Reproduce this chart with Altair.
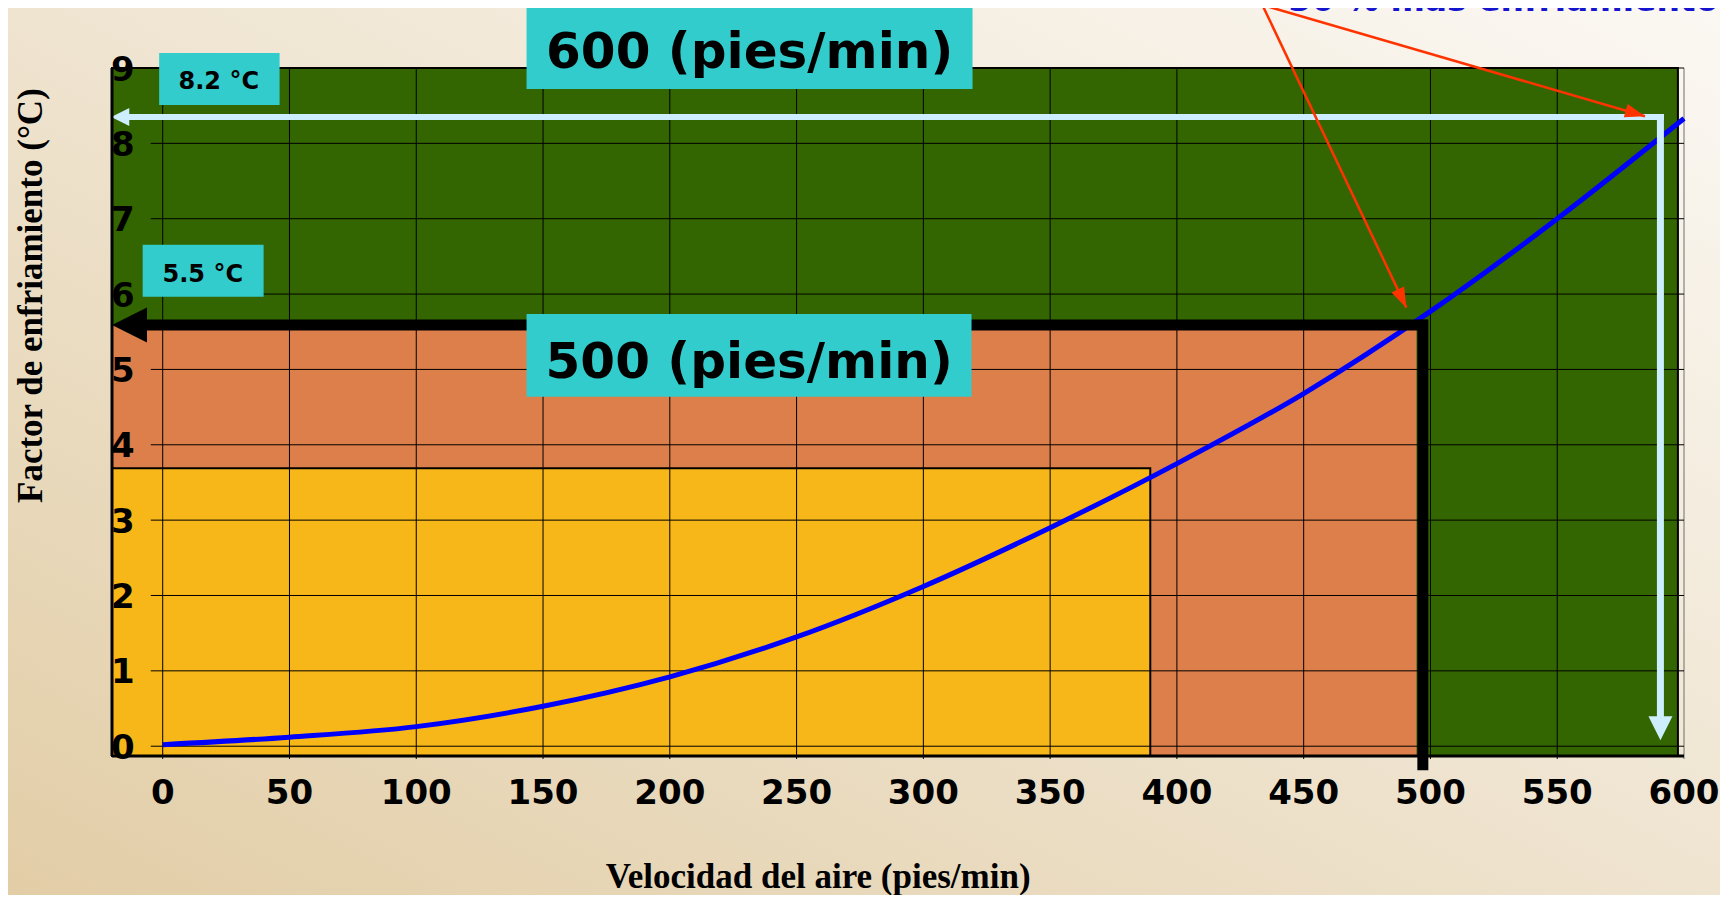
import math
import altair as alt
import pandas as pd

# ---------------- data ----------------
velocidad = [0, 50, 100, 150, 200, 250, 300, 350, 400, 450, 500, 550, 600]
enfriamiento = [0.02, 0.12, 0.26, 0.53, 0.92, 1.45, 2.12, 2.90, 3.75, 4.68, 5.77, 7.00, 8.33]

x_ticks = [0, 50, 100, 150, 200, 250, 300, 350, 400, 450, 500, 550, 600]
y_ticks = [0, 1, 2, 3, 4, 5, 6, 7, 8, 9]

x_title = "Velocidad del aire (pies/min)"
y_title = "Factor de enfriamiento (°C)"
x_title_pos = [258.5, -1.88]
y_title_pos = [-47.6, 5.98]

zone_name = ["verde", "naranja", "amarillo"]
zone_x_end = [597.6, 494.5, 389.5]
zone_y_end = [9.0, 5.6, 3.69]
zone_color = ["#336600", "#DD7F4A", "#F7B718"]
zone_stroke = [2, 0, 2]

# guide segments (x0, y0) -> (x1, y1)
seg_x0 = [-10, 497, -16, 590.7, 433.7, 433.7]
seg_y0 = [5.59, 5.66, 8.35, 8.39, 9.837, 9.837]
seg_x1 = [499, 497, 592.1, 590.7, 584.6, 490.5]
seg_y1 = [5.59, -0.32, 8.35, 0.35, 8.36, 5.82]
seg_color = ["#000000", "#000000", "#CCEEFF", "#CCEEFF", "#FF3300", "#FF3300"]
seg_width = [11, 11, 6, 7, 2.5, 2.5]

# arrow heads (tip positions)
head_x = [-20, -20.3, 590.7, 584.6, 490.5]
head_y = [5.59, 8.35, 0.08, 8.36, 5.82]
head_kind = ["left", "left", "down", "tilt", "tilt"]
head_seg = [0, 2, 3, 4, 5]
head_size = [1225, 324, 576, 400, 400]
head_color = ["#000000", "#CCEEFF", "#CCEEFF", "#FF3300", "#FF3300"]

# cyan label boxes
box_text = ["600 (pies/min)", "500 (pies/min)", "8.2 °C", "5.5 °C"]
box_x0 = [143.5, 143.5, -1.4, -7.9]
box_x1 = [319.4, 319.0, 46.1, 39.8]
box_y0 = [8.72, 4.636, 8.51, 5.963]
box_y1 = [9.837, 5.736, 9.2, 6.653]
text_x = [231.5, 231.3, 22.1, 15.8]
text_y = [9.0, 4.89, 8.72, 6.16]
text_big = [True, True, False, False]

note_text = ["30 % más enfriamiento"]
note_x = [444]
note_y = [9.75]

# ---------------- layout ----------------
X_DOMAIN = [-20, 600]
Y_DOMAIN = [-0.13, 9]
W, H = 1572, 688
PAD = {"left": 104, "top": 60, "right": 36, "bottom": 139}
px_x = W / (X_DOMAIN[1] - X_DOMAIN[0])
px_y = H / (Y_DOMAIN[1] - Y_DOMAIN[0])

SHAPES = {
    "left": "M0,0L2,-1L2,1Z",
    "down": "M0,0L-1,-2L1,-2Z",
    "tilt": "M0,0L-0.7,2L0.7,2Z",
}

def head_angle(i):
    if head_kind[i] != "tilt":
        return 0
    s = head_seg[i]
    dx = (seg_x1[s] - seg_x0[s]) * px_x
    dy = -(seg_y1[s] - seg_y0[s]) * px_y
    return math.degrees(math.atan2(dx, -dy)) % 360

xs = alt.Scale(domain=X_DOMAIN, nice=False, zero=False)
ys = alt.Scale(domain=Y_DOMAIN, nice=False, zero=False)

SANS = "DejaVu Sans"
SERIF = "Liberation Serif"

def X(f):
    return alt.X(f, type="quantitative", scale=xs, axis=None)

def Y(f):
    return alt.Y(f, type="quantitative", scale=ys, axis=None)

# background gradient panel
bg = alt.Chart(pd.DataFrame({"k": [0]})).mark_rect(
    color=alt.LinearGradient(
        gradient="linear", x1=1, y1=0, x2=0, y2=1,
        stops=[alt.GradientStop(color="#FBF8F3", offset=0),
               alt.GradientStop(color="#EFE4D0", offset=0.5),
               alt.GradientStop(color="#E2CDA6", offset=1)],
    )
).encode(
    x=alt.value(-PAD["left"]), x2=alt.value(W + PAD["right"]),
    y=alt.value(-PAD["top"]), y2=alt.value(H + PAD["bottom"]),
)

zones_df = pd.DataFrame({
    "zona": zone_name, "x0": [X_DOMAIN[0]] * 3, "x1": zone_x_end,
    "y0": [Y_DOMAIN[0]] * 3, "y1": zone_y_end, "c": zone_color, "sw": zone_stroke,
})
zones = alt.Chart(zones_df).mark_rect(stroke="black").encode(
    x=X("x0"), x2="x1", y=Y("y0"), y2="y1",
    color=alt.Color("c:N", scale=None),
    strokeWidth=alt.StrokeWidth("sw:Q", scale=None),
)

vgrid_df = pd.DataFrame({"x": x_ticks, "y0": [-0.17] * len(x_ticks), "y1": [9] * len(x_ticks)})
vgrid = alt.Chart(vgrid_df).mark_rule(strokeWidth=1).encode(
    x=X("x"), y=Y("y0"), y2="y1",
    color=alt.condition(alt.datum.x == 600, alt.value("#6E6E6E"), alt.value("#000000")),
)
hgrid_df = pd.DataFrame({"y": y_ticks, "x0": [-4.7] * len(y_ticks), "x1": [600] * len(y_ticks)})
hgrid = alt.Chart(hgrid_df).mark_rule(strokeWidth=1, color="black").encode(
    y=Y("y"), x=X("x0"), x2="x1",
)

curve = alt.Chart(pd.DataFrame({"v": velocidad, "f": enfriamiento})).mark_line(
    color="#0000FF", strokeWidth=5, interpolate="monotone"
).encode(x=X("v"), y=Y("f"))

seg_df = pd.DataFrame({"x": seg_x0, "y": seg_y0, "x2": seg_x1, "y2": seg_y1,
                       "c": seg_color, "w": seg_width, "i": list(range(len(seg_x0)))})
segs = alt.Chart(seg_df).mark_rule().encode(
    x=X("x"), x2="x2", y=Y("y"), y2="y2",
    color=alt.Color("c:N", scale=None),
    strokeWidth=alt.StrokeWidth("w:Q", scale=None),
    order="i:Q",
)

heads_df = pd.DataFrame({
    "x": head_x, "y": head_y,
    "shape": [SHAPES[k] for k in head_kind],
    "size": head_size, "c": head_color,
    "a": [head_angle(i) for i in range(len(head_x))],
})
heads = alt.Chart(heads_df).mark_point(filled=True, opacity=1, strokeWidth=0).encode(
    x=X("x"), y=Y("y"),
    shape=alt.Shape("shape:N", scale=None),
    size=alt.Size("size:Q", scale=None),
    color=alt.Color("c:N", scale=None),
    angle=alt.Angle("a:Q", scale=None),
)

# axis lines and labels, placed through the scales
axis_lines_df = pd.DataFrame({
    "x": [X_DOMAIN[0], X_DOMAIN[0]], "x2": [X_DOMAIN[1], X_DOMAIN[0]],
    "y": [Y_DOMAIN[0], Y_DOMAIN[0]], "y2": [Y_DOMAIN[0], Y_DOMAIN[1]],
})
axis_lines = alt.Chart(axis_lines_df).mark_rule(color="black", strokeWidth=3).encode(
    x=X("x"), x2="x2", y=Y("y"), y2="y2",
)
xlab = alt.Chart(pd.DataFrame({"v": x_ticks, "b": [Y_DOMAIN[0]] * len(x_ticks)})).mark_text(
    font=SANS, fontSize=34, fontWeight="bold", color="black",
    align="center", baseline="top", dy=21,
).encode(x=X("v"), y=Y("b"), text=alt.Text("v:Q"))
ylab = alt.Chart(pd.DataFrame({"v": y_ticks, "b": [X_DOMAIN[0]] * len(y_ticks)})).mark_text(
    font=SANS, fontSize=34, fontWeight="bold", color="black",
    align="left", baseline="middle", dx=-1, dy=2.5,
).encode(x=X("b"), y=Y("v"), text=alt.Text("v:Q"))
xtit = alt.Chart(pd.DataFrame({"t": [x_title], "x": [x_title_pos[0]], "y": [x_title_pos[1]]})).mark_text(
    font=SERIF, fontSize=35, fontWeight="bold", color="black",
    align="center", baseline="alphabetic",
).encode(x=X("x"), y=Y("y"), text="t:N")
ytit = alt.Chart(pd.DataFrame({"t": [y_title], "x": [y_title_pos[0]], "y": [y_title_pos[1]]})).mark_text(
    font=SERIF, fontSize=35, fontWeight="bold", color="black",
    align="center", baseline="alphabetic", angle=270,
).encode(x=X("x"), y=Y("y"), text="t:N")

box_df = pd.DataFrame({"t": box_text, "x0": box_x0, "x1": box_x1, "y0": box_y0,
                       "y1": box_y1, "tx": text_x, "ty": text_y, "big": text_big})
boxes = alt.Chart(box_df).mark_rect(color="#33CCCC").encode(
    x=X("x0"), x2="x1", y=Y("y0"), y2="y1",
)
big_text = alt.Chart(box_df).transform_filter(alt.datum.big == True).mark_text(
    font=SANS, fontSize=50, fontWeight="bold", color="black",
    align="center", baseline="alphabetic",
).encode(x=X("tx"), y=Y("ty"), text="t:N")
small_text = alt.Chart(box_df).transform_filter(alt.datum.big == False).mark_text(
    font=SANS, fontSize=24, fontWeight="bold", color="black",
    align="center", baseline="alphabetic",
).encode(x=X("tx"), y=Y("ty"), text="t:N")

note = alt.Chart(pd.DataFrame({"t": note_text, "x": note_x, "y": note_y})).mark_text(
    font=SANS, fontSize=33, fontWeight="bold", color="#1515D0",
    align="left", baseline="alphabetic",
).encode(x=X("x"), y=Y("y"), text="t:N")

chart = alt.layer(
    bg, zones, vgrid, hgrid, curve, segs, heads, axis_lines, xlab, ylab, xtit, ytit,
    boxes, big_text, small_text, note
).properties(
    width=W, height=H,
    autosize=alt.AutoSizeParams(type="none"),
    padding=PAD,
    background="#EFE4D0",
).configure_view(stroke=None)

chart.save("out.html", embed_options={"renderer": "svg", "actions": False})
